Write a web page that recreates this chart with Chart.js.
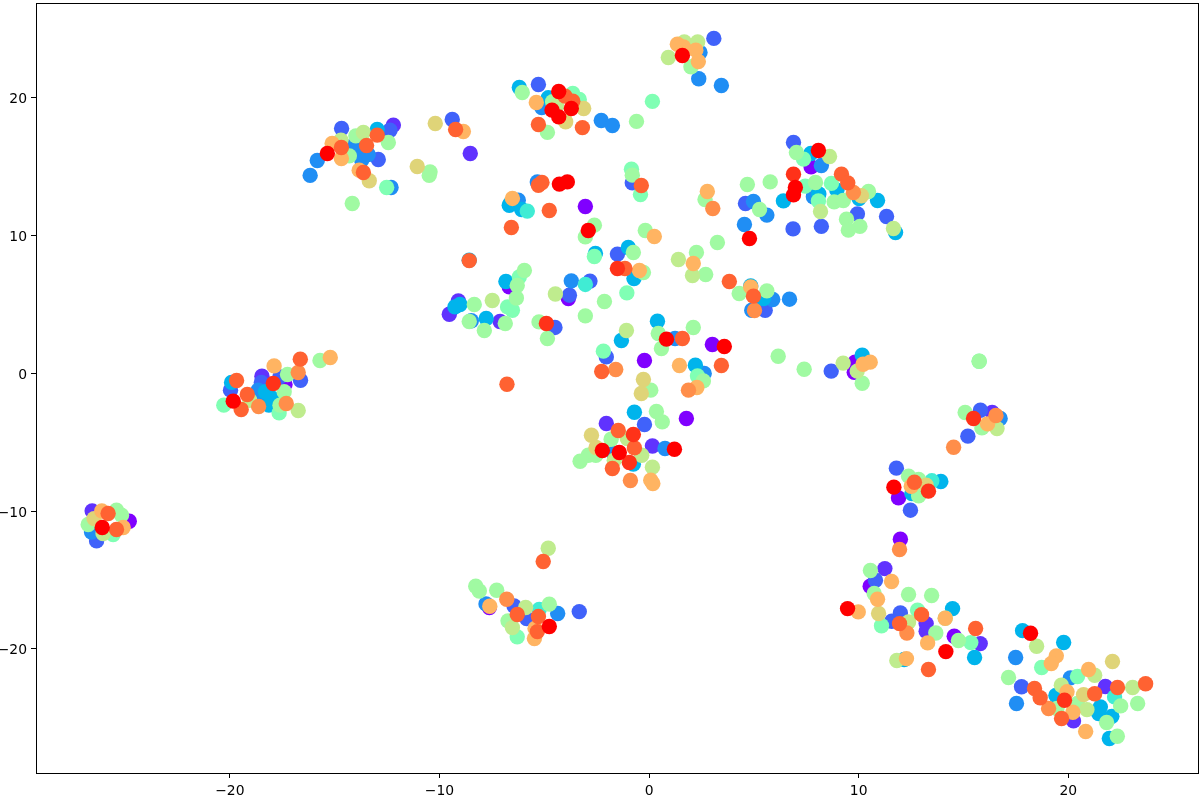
<!DOCTYPE html>
<html>
<head>
<meta charset="utf-8">
<title>scatter</title>
<script src="https://cdn.jsdelivr.net/npm/chart.js@4/dist/chart.umd.min.js"></script>
<style>
  body { margin: 0; background: #fff; }
  canvas { display: block; }
</style>
</head>
<body>
<canvas id="chart" width="1204" height="797"></canvas>
<script>
const xTicks = [-20, -10, 0, 10, 20];
const yTicks = [-20, -10, 0, 10, 20];

// one list per class, low to high, [x, y]
const purple = [[-3.04,12.09],[-0.22,0.92],[3.02,2.08],[1.78,-3.29],[-3.85,5.42],[-6.67,6.26],[7.73,14.97],[-7.62,-17.0],[11.99,-12.05],[10.55,-15.46],[14.56,-19.09],[-24.8,-10.74],[-17.37,-0.82],[9.79,0.07],[11.9,-9.05],[9.83,0.8]];
const violet = [[-12.2,18.0],[-8.53,15.94],[-9.1,5.25],[-9.53,4.28],[-7.11,3.75],[-2.04,-3.65],[0.16,-5.28],[-18.47,-0.22],[-26.57,-9.99],[11.25,-14.18],[13.22,-18.17],[13.22,-18.72],[15.8,-19.62],[21.77,-22.73],[20.25,-25.23],[16.37,-2.85]];
const blue = [[-14.67,17.75],[-12.36,17.63],[-12.92,15.5],[-13.88,16.3],[-9.39,18.41],[-5.28,20.95],[-0.8,13.81],[3.09,24.29],[6.89,16.74],[4.6,12.31],[5.54,4.57],[5.3,5.06],[9.94,11.56],[11.33,11.37],[6.87,10.47],[8.22,10.65],[-1.51,8.64],[-3.8,5.66],[-2.82,6.68],[-4.49,3.32],[-2.04,1.18],[-0.22,-3.72],[-19.97,-1.23],[-18.5,-0.67],[-17.61,-0.27],[-16.63,-0.51],[-26.36,-12.17],[-6.44,-16.89],[-3.33,-17.3],[-5.84,-17.8],[10.8,-15.02],[11.99,-17.4],[11.58,-18.0],[17.77,-22.75],[15.81,-2.69],[15.21,-4.57],[11.8,-6.89],[12.47,-9.94],[8.69,0.15]];
const azure = [[-15.83,15.43],[-16.17,14.35],[-13.71,15.46],[-13.4,15.87],[-14.03,16.3],[-14.27,16.42],[-12.31,13.47],[-5.12,19.28],[-2.28,18.33],[-1.75,17.97],[-5.33,13.88],[-6.24,12.55],[2.43,23.27],[2.37,21.36],[3.45,20.87],[4.98,12.46],[5.62,11.47],[4.55,10.79],[4.9,4.57],[5.9,5.35],[6.7,5.37],[8.22,15.07],[8.0,12.92],[7.84,12.8],[-8.48,3.8],[-3.71,6.7],[1.24,2.52],[2.63,-0.02],[0.76,-5.46],[-1.7,-5.83],[-18.65,-1.23],[-18.41,-1.72],[-26.6,-11.52],[-7.78,-16.74],[-4.36,-17.44],[17.49,-20.63],[20.1,-22.11],[17.53,-23.97],[16.75,-3.29]];
const cyan = [[-12.97,17.68],[-6.19,20.73],[-4.81,19.98],[-6.67,12.19],[-6.6,12.35],[-6.08,11.88],[-2.56,8.69],[-0.99,9.12],[-0.72,6.87],[4.85,6.33],[5.46,5.42],[7.72,15.94],[6.41,12.5],[8.1,13.0],[8.96,13.28],[10.02,12.67],[10.9,12.53],[11.76,10.2],[-8.58,8.2],[-9.02,4.98],[-9.26,4.81],[-7.77,3.97],[-6.83,6.65],[-1.32,2.37],[0.4,3.77],[2.21,0.58],[-0.7,-2.83],[-0.75,-6.6],[-19.92,-0.67],[-18.3,-1.35],[-18.14,-2.32],[-18.0,-1.8],[14.48,-17.08],[15.53,-20.63],[12.17,-20.78],[17.82,-18.68],[19.78,-19.54],[19.41,-23.39],[21.53,-24.21],[22.08,-24.9],[21.45,-24.7],[21.96,-26.51],[13.92,-7.86],[12.54,-8.73],[10.17,1.31]];
const turquoise = [[-5.81,11.76],[-3.04,6.44],[-5.24,-17.15],[13.49,-7.81],[22.21,-23.49]];
const mint = [[-12.52,13.47],[-3.64,20.3],[-3.33,19.86],[-0.84,14.8],[-0.41,12.97],[0.16,19.72],[7.37,15.53],[7.45,13.57],[8.08,12.5],[8.7,13.77],[-2.61,8.47],[-1.06,5.83],[-6.19,6.99],[-6.75,4.81],[-6.52,4.57],[-2.18,1.6],[2.31,-0.2],[-20.29,-2.32],[-17.65,-2.88],[-25.57,-11.7],[-6.29,-19.13],[11.09,-18.33],[12.81,-17.2],[15.35,-19.55],[18.73,-21.36],[20.44,-22.01],[15.75,0.87]];
const lightGreen = [[-13.99,17.22],[-12.44,16.74],[-14.3,15.77],[-14.16,12.31],[-10.45,14.61],[-10.49,14.35],[-6.05,20.37],[-4.6,19.69],[-4.85,17.47],[-0.6,18.27],[-0.8,14.37],[-2.61,10.74],[-3.04,9.89],[-0.18,10.35],[2.67,12.6],[4.69,13.69],[5.78,13.88],[5.27,11.88],[2.0,22.23],[7.03,16.01],[7.94,13.84],[10.47,13.18],[8.83,12.43],[9.27,12.53],[9.42,11.17],[10.06,10.65],[9.51,10.38],[-0.75,8.76],[-0.27,7.31],[2.26,8.76],[2.7,7.16],[3.26,9.48],[4.3,5.78],[5.62,5.97],[-8.34,4.98],[-8.58,3.75],[-7.86,3.1],[-6.86,3.6],[-5.95,7.45],[-6.29,6.36],[-6.33,5.46],[-2.13,5.2],[-3.04,4.16],[-5.25,3.72],[-4.85,2.52],[0.44,2.88],[0.59,1.79],[2.11,3.31],[2.59,-0.56],[0.08,-1.23],[0.35,-2.78],[0.63,-3.53],[-1.81,-4.79],[-2.9,-5.95],[-2.54,-5.95],[-3.29,-6.39],[6.16,1.23],[7.4,0.29],[10.17,-0.73],[15.75,0.87],[-17.25,-0.1],[-15.7,0.92],[-17.41,-1.35],[-17.61,-2.32],[-26.76,-10.98],[-25.41,-9.94],[-25.17,-10.3],[-8.27,-15.46],[-8.1,-15.8],[-7.27,-15.75],[-4.76,-16.76],[-6.73,-17.97],[10.56,-14.32],[10.74,-15.99],[12.38,-16.06],[13.48,-16.13],[13.68,-18.85],[14.13,-17.78],[14.76,-19.4],[17.15,-22.08],[19.46,-24.33],[20.44,-23.97],[22.5,-24.14],[23.31,-23.97],[21.83,-25.35],[22.34,-26.34],[15.08,-2.85],[15.88,-3.97],[12.38,-7.47],[12.86,-7.71],[12.86,-8.9]];
const lime = [[-13.63,17.46],[-14.7,16.9],[-4.41,19.38],[1.68,24.04],[2.32,24.04],[0.92,22.91],[8.61,15.72],[8.18,11.73],[11.66,10.5],[1.4,8.25],[2.07,7.09],[-7.48,5.27],[-4.47,5.75],[-1.08,3.1],[-1.04,-4.74],[-0.35,-5.95],[-1.66,-6.31],[0.16,-6.82],[-19.05,-1.96],[-16.74,-2.71],[-26.05,-11.64],[-4.81,-12.7],[-5.89,-17.0],[-6.52,-18.46],[12.38,-18.05],[11.82,-20.85],[18.49,-19.81],[21.26,-21.92],[19.67,-22.64],[20.89,-24.41],[23.07,-22.81],[16.6,-4.02],[9.26,0.73],[9.93,0.15]];
const sand = [[-13.35,13.96],[-10.2,18.12],[-11.06,15.0],[-3.12,19.21],[-3.98,18.24],[10.13,12.87],[-0.27,-0.46],[-0.37,-1.47],[-2.75,-4.5],[-2.53,-5.39],[-26.48,-10.55],[10.95,-17.44],[22.11,-20.92],[20.73,-23.32],[13.22,-8.13]];
const orange = [[-15.12,16.67],[-14.68,15.58],[-13.83,14.73],[-8.86,17.54],[-5.38,19.64],[-6.52,12.68],[0.25,9.92],[2.78,13.18],[1.35,23.87],[1.64,23.68],[2.23,23.44],[2.35,22.62],[-0.46,7.45],[2.11,7.96],[4.85,6.26],[1.45,0.56],[2.28,-1.04],[0.08,-7.76],[0.18,-8.0],[-17.89,0.53],[-15.21,1.14],[-26.11,-9.99],[-25.09,-11.2],[-7.6,-16.91],[-5.44,-18.53],[-5.47,-19.25],[11.57,-15.12],[10.9,-16.4],[9.98,-17.32],[14.13,-17.78],[13.29,-19.57],[12.28,-20.71],[19.43,-20.51],[19.19,-21.07],[20.97,-21.5],[19.94,-23.12],[20.22,-24.6],[20.83,-26.0],[16.15,-3.68],[12.51,-8.2],[10.55,0.8],[10.21,0.65]];
const darkOrange = [[3.04,11.95],[-1.59,0.27],[1.88,-1.23],[-0.89,-7.79],[5.03,4.55],[9.75,13.11],[-16.74,0.05],[-18.63,-2.42],[-17.31,-2.2],[-6.79,-16.4],[11.95,-12.79],[12.3,-18.85],[19.06,-24.33],[16.55,-3.07],[14.53,-5.37]];
const redOrange = [[-12.97,17.27],[-14.68,16.38],[-13.48,16.52],[-13.63,14.56],[-9.23,17.68],[-4.01,20.1],[-3.64,19.74],[-5.28,18.04],[-3.18,17.82],[-5.28,13.64],[-5.11,13.84],[-0.37,13.62],[-4.76,11.8],[-6.57,10.57],[9.18,14.44],[9.48,13.81],[-1.15,7.6],[3.83,6.65],[4.98,5.59],[-8.58,8.17],[1.59,2.52],[3.45,0.56],[-2.26,0.12],[-1.47,-4.16],[-0.7,-5.42],[-1.75,-6.92],[-6.78,-0.8],[-19.46,-2.63],[-19.17,-1.55],[-19.68,-0.53],[-16.64,1.02],[-25.81,-10.18],[-25.41,-11.34],[-5.05,-13.66],[-6.29,-17.51],[-5.28,-17.66],[-5.33,-18.75],[13.0,-17.52],[11.95,-18.17],[15.58,-18.53],[13.33,-21.5],[18.39,-22.88],[18.66,-23.55],[21.26,-23.26],[22.35,-22.81],[23.69,-22.53],[19.68,-25.06],[12.66,-7.91]];
const scarlet = [[6.89,14.44],[-1.51,7.6],[-4.9,3.6],[-0.75,-4.45],[-0.94,-6.48],[-17.93,-0.75],[19.82,-23.73],[15.48,-3.29],[13.33,-8.56]];
const red = [[-15.35,15.94],[-4.31,20.44],[-3.71,19.21],[-4.63,19.09],[-4.31,18.6],[-4.28,13.72],[-3.9,13.88],[-2.9,10.35],[4.79,9.77],[1.59,23.05],[8.08,16.16],[6.98,13.47],[6.89,12.94],[0.83,2.47],[3.59,1.94],[-2.23,-5.61],[-1.42,-5.76],[1.21,-5.52],[-19.84,-2.03],[-26.09,-11.2],[-4.76,-18.38],[9.47,-17.08],[14.16,-20.2],[18.2,-18.87],[11.68,-8.27]];

const classes = [purple, violet, blue, azure, cyan, turquoise, mint, lightGreen, lime, sand, orange, darkOrange, redOrange, scarlet, red];
const colours = ["#8000ff", "#6032fe", "#4062fa", "#208ef4", "#00b4ec", "#40ecd4", "#80ffb4", "#a0faa2", "#bfec8e", "#dfd478", "#ffb462", "#ff8e4a", "#ff6232", "#ff3219", "#ff0000"];

// chart.js paints the first dataset last, so put the red class first
const datasets = classes.map((pts, i) => ({
  data: pts.map(p => ({ x: p[0], y: p[1] })),
  backgroundColor: colours[i],
  borderWidth: 0,
  pointRadius: 7.7,
  pointHoverRadius: 7.7,
})).reverse();

const frame = {
  id: "frame",
  afterDatasetsDraw(chart) {
    const a = chart.chartArea;
    const ctx = chart.ctx;
    ctx.save();
    ctx.strokeStyle = "#000";
    ctx.lineWidth = 1;
    ctx.strokeRect(a.left + 0.5, a.top + 0.5, a.right - a.left, a.bottom - a.top);
    ctx.restore();
  },
};

function axis(min, max, tickValues, fit, tickPadding, labelOffset) {
  return {
    type: "linear",
    min: min,
    max: max,
    afterBuildTicks: s => { s.ticks = tickValues.map(v => ({ value: v })); },
    afterFit: s => {
      fit(s);
      s.paddingTop = s.paddingBottom = s.paddingLeft = s.paddingRight = 0;
    },
    border: { display: false },
    grid: { drawOnChartArea: false, drawTicks: true, tickLength: 5, tickColor: "#000", tickWidth: 1 },
    ticks: {
      color: "#000",
      padding: tickPadding,
      labelOffset: labelOffset,
      maxRotation: 0,
      autoSkip: false,
      font: { family: "'DejaVu Sans'", size: 13.9 },
      callback: v => String(v).replace("-", "\u2212"),
    },
  };
}

new Chart(document.getElementById("chart"), {
  type: "scatter",
  data: { datasets: datasets },
  options: {
    responsive: false,
    animation: false,
    layout: { autoPadding: false, padding: { left: 0, top: 3, right: 6, bottom: 0 } },
    scales: {
      x: axis(-29.25, 26.19, xTicks, s => { s.height = 24; }, 5, 0),
      y: axis(-29.01, 26.86, yTicks, s => { s.width = 36; }, 4, 2),
    },
    plugins: { legend: { display: false }, tooltip: { enabled: false } },
  },
  plugins: [frame],
});
</script>
</body>
</html>
